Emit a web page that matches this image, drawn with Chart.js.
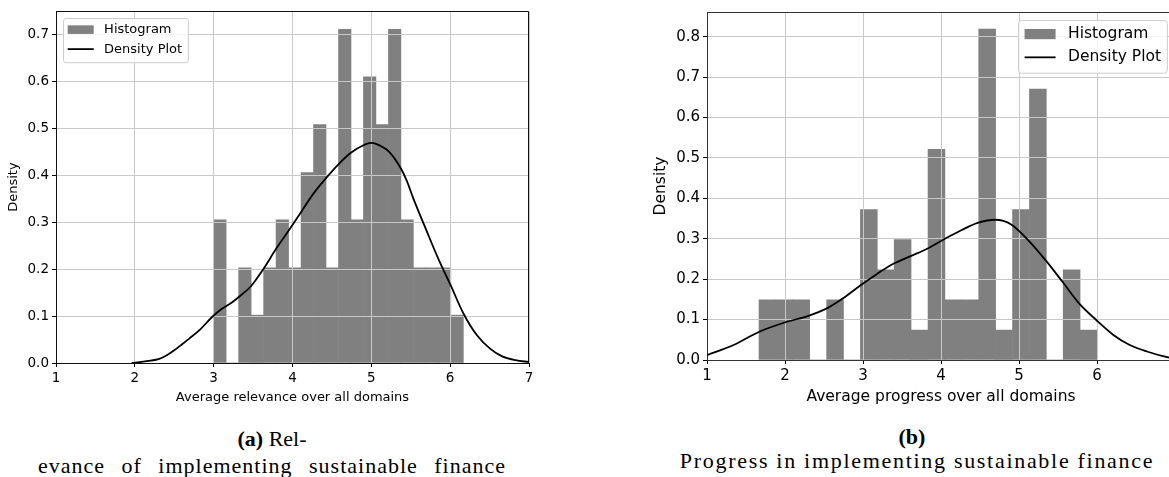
<!DOCTYPE html>
<html>
<head>
<meta charset="utf-8">
<script src="https://cdn.jsdelivr.net/npm/chart.js@4.4.1/dist/chart.umd.min.js"></script>
<style>
html, body { margin: 0; padding: 0; background: #fff; }
body { width: 1169px; height: 477px; position: relative; overflow: hidden; }
#wrapA { position: absolute; left: 0; top: 0; width: 545px; height: 410px; }
#wrapB { position: absolute; left: 620px; top: 0; width: 565px; height: 410px; }
.cap { position: absolute; font-family: "Liberation Serif", serif; font-size: 22px; line-height: 22px;
       color: #000; white-space: nowrap; text-align: center; }
</style>
</head>
<body>
<div id="wrapA"><canvas id="chartA"></canvas></div>
<div id="wrapB"><canvas id="chartB"></canvas></div>

<div class="cap" style="left:72px; width:400px; top:428px;"><b>(a)</b> Rel-</div>
<div class="cap" style="left:22px; width:500px; top:455px; word-spacing:10px; letter-spacing:1.0px;">evance of implementing sustainable finance</div>
<div class="cap" style="left:712px; width:400px; top:426px;"><b>(b)</b></div>
<div class="cap" style="left:667px; width:500px; top:450px; letter-spacing:1.7px;">Progress in implementing sustainable finance</div>

<script>
'use strict';

// (a) 平均 relevance のヒストグラム（20 ビン）
const relCenters = [3.079, 3.238, 3.396, 3.554, 3.713, 3.871, 4.029, 4.188, 4.346, 4.504,
                    4.663, 4.821, 4.979, 5.138, 5.296, 5.454, 5.613, 5.771, 5.929, 6.088];
const relHeights = [0.305, 0, 0.203, 0.102, 0.203, 0.305, 0.203, 0.406, 0.508, 0.203,
                    0.711, 0.305, 0.610, 0.508, 0.711, 0.305, 0.203, 0.203, 0.203, 0.102];
// (a) 密度曲線
const relKdeX = [1.96, 2.0, 2.2, 2.31, 2.4, 2.5, 2.6, 2.69, 2.82, 2.98, 3.1, 3.24, 3.35, 3.47, 3.63,
                 3.79, 3.95, 4.11, 4.27, 4.43, 4.58, 4.74, 4.9, 5.0, 5.06, 5.22, 5.37, 5.45, 5.53,
                 5.7, 5.85, 6.0, 6.17, 6.34, 6.51, 6.66, 6.83, 7.0];
const relKdeY = [0.0, 0.001, 0.005, 0.009, 0.016, 0.027, 0.04, 0.052, 0.07, 0.098, 0.115, 0.13, 0.145,
                 0.163, 0.2, 0.243, 0.282, 0.322, 0.362, 0.395, 0.423, 0.448, 0.464, 0.469, 0.467,
                 0.451, 0.416, 0.388, 0.352, 0.282, 0.222, 0.168, 0.105, 0.059, 0.03, 0.014, 0.006, 0.002];
const relXTicks = [1, 2, 3, 4, 5, 6, 7];
const relYTicks = [0, 0.1, 0.2, 0.3, 0.4, 0.5, 0.6, 0.7];

// (b) 平均 progress のヒストグラム（20 ビン）
const progCenters = [1.775, 1.992, 2.208, 2.425, 2.642, 2.858, 3.075, 3.292, 3.508, 3.725,
                     3.942, 4.158, 4.375, 4.592, 4.808, 5.025, 5.242, 5.458, 5.675, 5.892];
const progHeights = [0.149, 0.149, 0.149, 0, 0.149, 0, 0.372, 0.223, 0.298, 0.074,
                     0.521, 0.149, 0.149, 0.819, 0.074, 0.372, 0.670, 0, 0.223, 0.074];
// (b) 密度曲線
const progKdeX = [1.0, 1.34, 1.67, 2.0, 2.31, 2.53, 2.74, 2.97, 3.18, 3.39, 3.61, 3.83, 4.05, 4.26,
                  4.47, 4.69, 4.8, 4.91, 5.12, 5.34, 5.56, 5.77, 5.99, 6.21, 6.42, 6.64, 6.9, 7.0];
const progKdeY = [0.012, 0.037, 0.07, 0.093, 0.11, 0.127, 0.152, 0.185, 0.213, 0.238, 0.257, 0.276,
                  0.3, 0.321, 0.339, 0.347, 0.344, 0.334, 0.296, 0.247, 0.193, 0.14, 0.099, 0.062,
                  0.037, 0.021, 0.007, 0.004];
const progXTicks = [1, 2, 3, 4, 5, 6];
const progYTicks = [0, 0.1, 0.2, 0.3, 0.4, 0.5, 0.6, 0.7, 0.8];

const SANS = '"DejaVu Sans", sans-serif';

// matplotlib 風の凡例（枠付き、プロット内）
const mplLegend = {
    id: 'mplLegend',
    afterDraw(chart, args, opts) {
        const ctx = chart.ctx, area = chart.chartArea, fs = opts.fontSize;
        ctx.save();
        ctx.font = fs + 'px ' + SANS;
        const labels = chart.data.datasets.map(d => d.label);
        const tw = Math.max(...labels.map(t => ctx.measureText(t).width));
        const pad = 0.4 * fs, hl = 2 * fs, htp = 0.8 * fs;
        const w = 2 * pad + hl + htp + tw, h = 3.4 * fs;
        const x0 = opts.corner === 'left' ? area.left + 0.5 * fs : area.right - 0.5 * fs - w;
        const y0 = area.top + 0.5 * fs;
        ctx.beginPath();
        ctx.roundRect(Math.round(x0) + 0.5, Math.round(y0) + 0.5, w, h, 0.2 * fs);
        ctx.fillStyle = 'rgba(255,255,255,0.8)';
        ctx.fill();
        ctx.strokeStyle = '#cccccc';
        ctx.lineWidth = 1;
        ctx.stroke();
        const cy1 = y0 + 0.925 * fs, cy2 = cy1 + 1.5 * fs;
        ctx.fillStyle = '#808080';
        ctx.fillRect(x0 + pad, cy1 - 0.33 * fs, hl, 0.66 * fs);
        ctx.beginPath();
        ctx.moveTo(x0 + pad, cy2);
        ctx.lineTo(x0 + pad + hl, cy2);
        ctx.strokeStyle = '#000';
        ctx.lineWidth = 1.8;
        ctx.stroke();
        ctx.fillStyle = '#000';
        ctx.textBaseline = 'middle';
        ctx.fillText(labels[0], x0 + pad + hl + htp, cy1);
        ctx.fillText(labels[1], x0 + pad + hl + htp, cy2);
        ctx.restore();
    }
};

// グリッドを棒の上に描き直し、上・右の枠線を足す
const mplFrame = {
    id: 'mplFrame',
    afterDatasetDraw(chart, args) {
        if (args.meta.type !== 'bar') return;
        const area = chart.chartArea;
        chart.scales.x.drawGrid(area);
        chart.scales.y.drawGrid(area);
        chart.scales.x.drawBorder();
        chart.scales.y.drawBorder();
    },
    afterDraw(chart, args, opts) {
        const ctx = chart.ctx, a = chart.chartArea;
        ctx.save();
        ctx.strokeStyle = opts.color;
        ctx.lineWidth = 1;
        ctx.beginPath();
        const t = Math.round(a.top) + 0.5, r = Math.round(a.right) - 0.5;
        ctx.moveTo(a.left, t);
        ctx.lineTo(r, t);
        ctx.lineTo(r, a.bottom);
        ctx.stroke();
        ctx.restore();
    }
};

function histChart(id, c) {
    return new Chart(document.getElementById(id), {
        data: {
            datasets: [
                {
                    type: 'bar',
                    label: 'Histogram',
                    data: c.centers.map((v, i) => ({ x: v, y: c.heights[i] })),
                    backgroundColor: '#808080',
                    borderWidth: 0,
                    barPercentage: 1.0,
                    categoryPercentage: 1.0,
                    order: 1
                },
                {
                    type: 'line',
                    label: 'Density Plot',
                    data: c.kdeX.map((v, i) => ({ x: v, y: c.kdeY[i] })),
                    borderColor: '#000',
                    borderWidth: 1.8,
                    pointRadius: 0,
                    cubicInterpolationMode: 'monotone',
                    fill: false,
                    order: 0
                }
            ]
        },
        options: {
            responsive: true,
            maintainAspectRatio: false,
            animation: false,
            layout: { padding: c.padding },
            plugins: {
                legend: { display: false },
                tooltip: { enabled: false },
                mplLegend: { fontSize: c.legendFs, corner: c.legendCorner },
                mplFrame: { color: c.frameColor }
            },
            scales: {
                x: {
                    type: 'linear',
                    min: c.xMin, max: c.xMax,
                    offset: false,
                    afterBuildTicks: s => { s.ticks = c.xTicks.map(v => ({ value: v })); },
                    afterFit: s => { s.height = c.xAxisH; },
                    grid: { offset: false, color: '#c8c8c8', lineWidth: 1, tickColor: '#000', tickLength: 4, tickWidth: 1 },
                    border: { color: c.frameColor, width: 1 },
                    ticks: { font: { family: SANS, size: c.tickFs }, color: '#000', padding: c.tickPad,
                             maxRotation: 0, autoSkip: false, callback: v => String(v) },
                    title: { display: true, text: c.xTitle, color: '#000',
                             font: { family: SANS, size: c.titleFs }, padding: { top: 0, bottom: c.xTitlePad } }
                },
                y: {
                    type: 'linear',
                    min: 0, max: c.yMax,
                    afterBuildTicks: s => { s.ticks = c.yTicks.map(v => ({ value: v })); },
                    afterFit: s => { s.width = c.yAxisW; },
                    grid: { color: '#c8c8c8', lineWidth: 1, tickColor: '#000', tickLength: 4, tickWidth: 1 },
                    border: { color: c.frameColor, width: 1 },
                    ticks: { font: { family: SANS, size: c.tickFs }, color: '#000', padding: 3,
                             callback: v => v.toFixed(1) },
                    title: { display: true, text: 'Density', color: '#000',
                             font: { family: SANS, size: c.titleFs }, padding: { top: c.yTitlePad, bottom: 0 } }
                }
            }
        },
        plugins: [mplLegend, mplFrame]
    });
}

histChart('chartA', {
    centers: relCenters, heights: relHeights, kdeX: relKdeX, kdeY: relKdeY,
    xTicks: relXTicks, yTicks: relYTicks, xMin: 1, xMax: 7, yMax: 0.75,
    xTitle: 'Average relevance over all domains',
    padding: { left: 0, right: 16, top: 10, bottom: 0 },
    xAxisH: 47, yAxisW: 56, tickFs: 13.5, titleFs: 13, legendFs: 13, tickPad: 3,
    xTitlePad: 5, yTitlePad: 6, legendCorner: 'left', frameColor: '#111'
});

histChart('chartB', {
    centers: progCenters, heights: progHeights, kdeX: progKdeX, kdeY: progKdeY,
    xTicks: progXTicks, yTicks: progYTicks, xMin: 1, xMax: 7, yMax: 0.861,
    xTitle: 'Average progress over all domains',
    padding: { left: 0, right: 10, top: 11, bottom: 0 },
    xAxisH: 50, yAxisW: 87, tickFs: 15, titleFs: 15.5, legendFs: 15.5, tickPad: 3,
    xTitlePad: 4, yTitlePad: 32, legendCorner: 'right', frameColor: '#333'
});
</script>
</body>
</html>
